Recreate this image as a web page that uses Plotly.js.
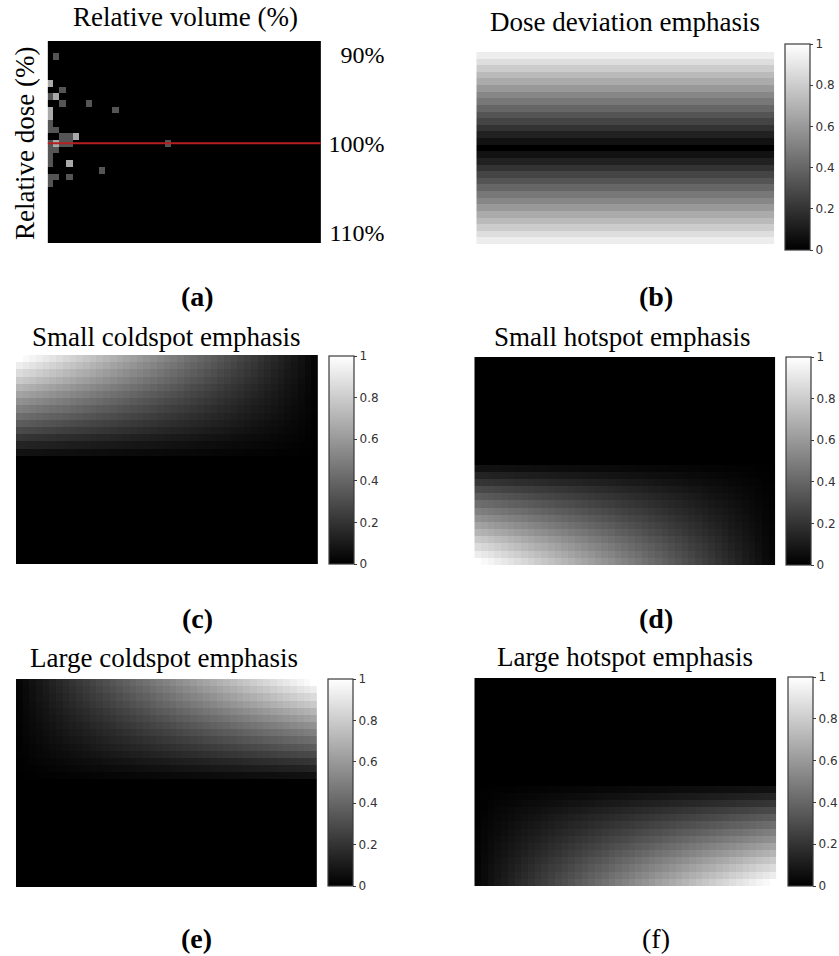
<!DOCTYPE html>
<html>
<head>
<meta charset="utf-8">
<script src="https://cdn.plot.ly/plotly-3.0.1.min.js"></script>
<style>html,body{margin:0;padding:0;background:#fff;}#chart{width:839px;height:956px;}</style>
</head>
<body>
<div id="chart"></div>
<script>
// ---------- DATA ----------
// Panel (a): DVH-style occupancy histogram (relative dose rows x relative volume columns)
const doseA = [88.75, 89.5, 90.25, 91, 91.75, 92.5, 93.25, 94, 94.75, 95.5, 96.25, 97, 97.75, 98.5, 99.25, 100,
  100.75, 101.5, 102.25, 103, 103.75, 104.5, 105.25, 106, 106.75, 107.5, 108.25, 109, 109.75, 110.5, 111.25];
const volumeA = [0, 2.5, 5, 7.5, 10, 12.5, 15, 17.5, 20, 22.5, 25, 27.5, 30, 32.5, 35, 37.5, 40, 42.5, 45, 47.5,
  50, 52.5, 55, 57.5, 60, 62.5, 65, 67.5, 70, 72.5, 75, 77.5, 80, 82.5, 85, 87.5, 90, 92.5, 95, 97.5, 100, 102.5];
// non-zero cells of panel (a)
const cellDose   = [90.25, 93.25, 94, 94.75, 94.75, 95.5, 95.5, 96.25, 96.25, 97, 97.75, 98.5, 98.5,
  99.25, 99.25, 99.25, 100, 100, 100, 100, 100, 100.75, 100.75, 101.5, 102.25, 102.25, 103, 103.75, 103.75, 103.75, 104.5];
const cellVolume = [2.5, 0, 5, 0, 2.5, 5, 15, 0, 25, 0, 0, 0, 2.5,
  5, 7.5, 10, 0, 2.5, 5, 7.5, 45, 0, 2.5, 0, 0, 7.5, 20, 0, 2.5, 7.5, 0];
const cellCount  = [1, 2, 1, 1, 2, 1, 1, 2, 1, 2, 1, 1, 1,
  1, 1, 2, 1, 2, 1, 1, 1, 1, 1, 1, 1, 2, 1, 1, 1, 1, 1];
const prescribedDose = 100;
const doseTickVals = [90, 100, 110];
const doseTickText = ['90%', '100%', '110%'];

// Panels (b)-(f): weighting maps
const doseW = [89.5, 90.25, 91, 91.75, 92.5, 93.25, 94, 94.75, 95.5, 96.25, 97, 97.75, 98.5, 99.25, 100,
  100.75, 101.5, 102.25, 103, 103.75, 104.5, 105.25, 106, 106.75, 107.5, 108.25, 109, 109.75, 110.5];
const volumeW = [0, 2.5, 5, 7.5, 10, 12.5, 15, 17.5, 20, 22.5, 25, 27.5, 30, 32.5, 35, 37.5, 40, 42.5, 45, 47.5,
  50, 52.5, 55, 57.5, 60, 62.5, 65, 67.5, 70, 72.5, 75, 77.5, 80, 82.5, 85, 87.5, 90, 92.5, 95, 97.5,
  100, 102.5, 105, 107.5, 110];
// dose deviation weight per dose row (panel b)
const deviationRow = [0.93, 0.87, 0.80, 0.73, 0.67, 0.60, 0.53, 0.47, 0.40, 0.33, 0.27, 0.20, 0.13, 0.07, 0.00,
  0.07, 0.13, 0.20, 0.27, 0.33, 0.40, 0.47, 0.53, 0.60, 0.67, 0.73, 0.80, 0.87, 0.93];
// coldspot / hotspot dose weights per dose row
const coldRow = [1.00, 0.93, 0.86, 0.79, 0.71, 0.64, 0.57, 0.50, 0.43, 0.36, 0.29, 0.21, 0.14, 0.07, 0.00,
  0, 0, 0, 0, 0, 0, 0, 0, 0, 0, 0, 0, 0, 0];
const hotRow = [0, 0, 0, 0, 0, 0, 0, 0, 0, 0, 0, 0, 0, 0, 0.00,
  0.07, 0.14, 0.21, 0.29, 0.36, 0.43, 0.50, 0.57, 0.64, 0.71, 0.79, 0.86, 0.93, 1.00];
// small / large volume weights per volume column
const smallCol = [1.000, 0.978, 0.956, 0.933, 0.911, 0.889, 0.867, 0.844, 0.822, 0.800, 0.778, 0.756, 0.733,
  0.711, 0.689, 0.667, 0.644, 0.622, 0.600, 0.578, 0.556, 0.533, 0.511, 0.489, 0.467, 0.444, 0.422, 0.400,
  0.378, 0.356, 0.333, 0.311, 0.289, 0.267, 0.244, 0.222, 0.200, 0.178, 0.156, 0.133, 0.111, 0.089, 0.067, 0.044, 0.022];
const largeCol = [0.022, 0.044, 0.067, 0.089, 0.111, 0.133, 0.156, 0.178, 0.200, 0.222, 0.244, 0.267, 0.289,
  0.311, 0.333, 0.356, 0.378, 0.400, 0.422, 0.444, 0.467, 0.489, 0.511, 0.533, 0.556, 0.578, 0.600, 0.622,
  0.644, 0.667, 0.689, 0.711, 0.733, 0.756, 0.778, 0.800, 0.822, 0.844, 0.867, 0.889, 0.911, 0.933, 0.956, 0.978, 1.000];
const cbTicks = [0, 0.2, 0.4, 0.6, 0.8, 1];
const titles = ['Relative volume (%)', 'Dose deviation emphasis', 'Small coldspot emphasis',
  'Small hotspot emphasis', 'Large coldspot emphasis', 'Large hotspot emphasis'];
const panelLabels = ['(a)', '(b)', '(c)', '(d)', '(e)', '(f)'];

// ---------- BUILD ----------
const W = 839, H = 956;
const px = x => x / W;
const py = y => 1 - y / H;

const zA = doseA.map(() => volumeA.map(() => 0));
cellDose.forEach((d, i) => {
  const r = doseA.indexOf(d), c = volumeA.indexOf(cellVolume[i]);
  zA[r][c] = cellCount[i];
});
const zB = deviationRow.map(r => volumeW.map(() => r));
const zC = coldRow.map(r => smallCol.map(c => r * c));
const zD = hotRow.map(r => smallCol.map(c => r * c));
const zE = coldRow.map(r => largeCol.map(c => r * c));
const zF = hotRow.map(r => largeCol.map(c => r * c));

const grayScale = [[0, 'rgb(0,0,0)'], [1, 'rgb(255,255,255)']];

// panel boxes [left, top, right, bottom] in px
const boxes = [
  [48, 41, 322, 243],
  [478, 52, 777, 244],
  [16, 355, 319, 564],
  [476, 357, 778, 565],
  [16, 679, 318, 887],
  [476, 678, 779, 886]
];
// colorbar boxes [left, top, bottom]
const cbs = [null, [788, 44, 250], [330, 356, 564], [789, 357, 565], [329, 679, 886], [791, 677, 886]];
const cbThick = 25;

function colorbar(i) {
  const [l, t, b] = cbs[i];
  return {
    x: px(l), xanchor: 'left', xpad: 0,
    y: py(b), yanchor: 'bottom', ypad: 0,
    len: (b - t) / H, lenmode: 'fraction',
    thickness: cbThick, thicknessmode: 'pixels',
    outlinewidth: 1.2, outlinecolor: '#3a3a3a',
    tickvals: cbTicks, ticks: 'outside', ticklen: 3, tickcolor: '#3a3a3a',
    tickfont: {family: 'DejaVu Sans', size: 12, color: '#333'}
  };
}

const traces = [];
traces.push({type: 'heatmap', x: volumeA, y: doseA, z: zA, xaxis: 'x', yaxis: 'y',
  colorscale: grayScale, zmin: 0, zmax: 3, showscale: false, zsmooth: false, hoverinfo: 'skip'});
traces.push({type: 'scatter', mode: 'lines', x: [volumeA[0] - 5, volumeA[volumeA.length - 1] + 5],
  y: [prescribedDose, prescribedDose], xaxis: 'x', yaxis: 'y',
  line: {color: 'rgb(180,32,32)', width: 2}, showlegend: false, hoverinfo: 'skip'});
[zB, zC, zD, zE, zF].forEach((z, k) => {
  const i = k + 1;
  traces.push({type: 'heatmap', x: volumeW, y: doseW, z: z, xaxis: 'x' + (i + 1), yaxis: 'y' + (i + 1),
    colorscale: grayScale, zmin: 0, zmax: 1, zsmooth: false, hoverinfo: 'skip',
    colorbar: colorbar(i)});
});

const layout = {
  width: W, height: H,
  margin: {l: 0, r: 0, t: 0, b: 0},
  paper_bgcolor: '#fff', plot_bgcolor: '#fff',
  showlegend: false,
  annotations: [],
  shapes: []
};
boxes.forEach((bx, i) => {
  const [l, t, r, b] = bx;
  const xa = i === 0 ? 'xaxis' : 'xaxis' + (i + 1);
  const ya = i === 0 ? 'yaxis' : 'yaxis' + (i + 1);
  const xid = i === 0 ? 'x' : 'x' + (i + 1);
  const yid = i === 0 ? 'y' : 'y' + (i + 1);
  layout[xa] = {domain: [px(l), px(r)], anchor: yid,
    range: i === 0 ? [-0.64, 103.15] : [-1.25, 111.25],
    visible: false, fixedrange: true};
  if (i === 0) {
    layout[ya] = {domain: [py(b), py(t)], anchor: 'free', position: px(386), side: 'left',
      range: [111.21, 88.49], tickvals: doseTickVals, ticktext: doseTickText,
      showgrid: false, zeroline: false, showline: false, ticks: '',
      tickfont: {family: 'Liberation Serif', size: 24, color: '#000'}, fixedrange: true};
  } else {
    layout[ya] = {domain: [py(b), py(t)], anchor: xid, range: [110.875, 89.125],
      visible: false, fixedrange: true};
  }
});

const titlePos = [[186, 17], [627, 22], [167, 337], [625, 337], [165, 658], [627, 657]];
titles.forEach((tx, i) => {
  layout.annotations.push({text: tx, xref: 'paper', yref: 'paper', x: px(titlePos[i][0]), y: py(titlePos[i][1]),
    xanchor: 'center', yanchor: 'middle', showarrow: false,
    font: {family: 'Liberation Serif', size: 27, color: '#000'}});
});
layout.annotations.push({text: 'Relative dose (%)', xref: 'paper', yref: 'paper', x: px(25), y: py(143),
  xanchor: 'center', yanchor: 'middle', textangle: -90, showarrow: false,
  font: {family: 'Liberation Serif', size: 27, color: '#000'}});
const labelPos = [[198, 296], [658, 296], [198, 618], [658, 618], [197, 938], [658, 938]];
panelLabels.forEach((tx, i) => {
  layout.annotations.push({text: i === 5 ? tx : '<b>' + tx + '</b>', xref: 'paper', yref: 'paper',
    x: px(labelPos[i][0]), y: py(labelPos[i][1]), xanchor: 'center', yanchor: 'middle', showarrow: false,
    font: {family: 'Liberation Serif', size: 28, color: '#000'}});
});
// faint diagonal artifact inside each colorbar
cbs.forEach(cb => {
  if (!cb) return;
  const [l, t, b] = cb;
  layout.shapes.push({type: 'line', xref: 'paper', yref: 'paper',
    x0: px(l + 2), y0: py(b - 1), x1: px(l + cbThick - 2), y1: py(b - 0.89 * (b - t)),
    line: {color: 'rgba(255,255,255,0.5)', width: 1, dash: '3px,3px'}});
});

Plotly.newPlot('chart', traces, layout, {displayModeBar: false, staticPlot: true});
</script>
</body>
</html>
